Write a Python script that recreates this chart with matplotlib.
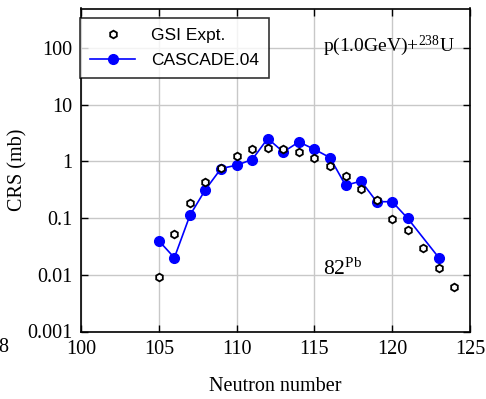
import matplotlib
matplotlib.use("Agg")
import matplotlib.pyplot as plt

plt.rcParams["mathtext.fontset"] = "custom"
plt.rcParams["mathtext.rm"] = "Liberation Serif"
plt.rcParams["mathtext.default"] = "rm"

# GSI experimental data
gsi_n = [105, 106, 107, 108, 109, 110, 111, 112, 113, 114, 115, 116, 117, 118, 119, 120, 121, 122, 123, 124]
gsi_crs = [0.0091, 0.052, 0.185, 0.44, 0.78, 1.25, 1.69, 1.76, 1.69, 1.47, 1.15, 0.83, 0.55, 0.33, 0.21,
           0.098, 0.061, 0.030, 0.013, 0.0061]

# CASCADE.04 calculation
cas_n = [105, 106, 107, 108, 109, 110, 111, 112, 113, 114, 115, 116, 117, 118, 119, 120, 121, 123]
cas_crs = [0.040, 0.020, 0.112, 0.32, 0.75, 0.86, 1.08, 2.54, 1.47, 2.21, 1.64, 1.17, 0.38, 0.45, 0.195,
           0.195, 0.099, 0.020]

xticks = [100, 105, 110, 115, 120, 125]
yticks = [0.001, 0.01, 0.1, 1, 10, 100]
ytick_labels = ["0.001", "0.01", "0.1", "1", "10", "100"]

serif = ["Liberation Serif", "DejaVu Serif"]
sans = ["Liberation Sans", "DejaVu Sans"]

fig = plt.figure(figsize=(4.86, 3.99), dpi=100)
ax = fig.add_axes([81 / 486, 1 - 331.5 / 399, 389 / 486, 323 / 399])

ax.plot(cas_n, cas_crs, color="#0000ff", lw=1.2, marker="o", ms=7,
        mfc="#0000ff", mec="#0000ff", label="CASCADE.04", zorder=3)
ax.plot(gsi_n, gsi_crs, ls="none", marker="h", ms=5.5, mfc="white", mec="black",
        mew=1.3, label="GSI Expt.", zorder=4)

ax.set_yscale("log")
ax.set_xlim(100, 125)
ax.set_ylim(0.001, 500)
ax.set_xticks(xticks)
ax.set_xticklabels([str(t) for t in xticks], family=serif, fontsize=14.5)
ax.set_yticks(yticks)
ax.set_yticklabels(ytick_labels, family=serif, fontsize=14.5)
ax.minorticks_off()
ax.tick_params(direction="in", top=True, right=True, length=5, width=1, pad=6)
ax.grid(True, color="#c8c8c8", lw=1)
ax.set_axisbelow(True)
for s in ax.spines.values():
    s.set_linewidth(1.2)

ax.set_xlabel("Neutron number", family=serif, fontsize=14.5, labelpad=13)
ax.set_ylabel("CRS (mb)", family=serif, fontsize=14.5, labelpad=0)

handles, labels = ax.get_legend_handles_labels()
leg = ax.legend(handles[::-1], labels[::-1], loc="upper left", bbox_to_anchor=(-0.003, 0.972),
                borderaxespad=0, prop={"family": sans, "size": 12.5}, frameon=True, fancybox=False,
                edgecolor="black", borderpad=0.6, handlelength=2.6, handletextpad=0.9,
                labelspacing=0.55)
leg.get_frame().set_linewidth(1.2)

ax.text(0.622, 0.885, r"p(1.0GeV)+$^{238}$U", transform=ax.transAxes, va="center",
        family=serif, fontsize=14)
ax.text(0.622, 0.175, r"82$^{\mathrm{Pb}}$", transform=ax.transAxes, family=serif, fontsize=15.5)

fig.text(9 / 486, 1 - 348 / 399, "98", ha="right", va="center", family=serif, fontsize=14.5)

fig.savefig("out.png", dpi=100)
